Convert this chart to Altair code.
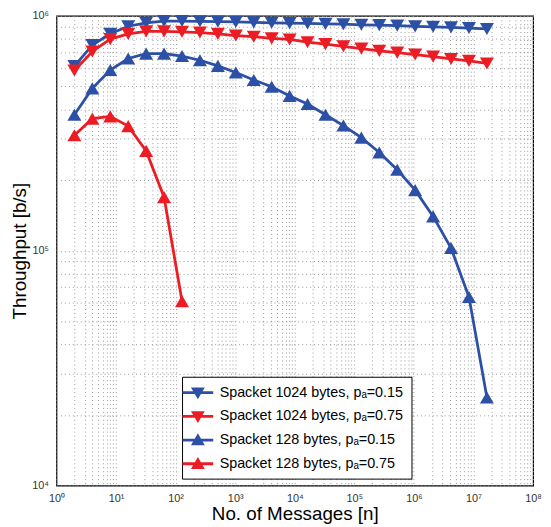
import altair as alt
import pandas as pd

# ---- data ----
n_values = [2, 4, 8, 16, 32, 64, 128, 256, 512, 1024, 2048, 4096, 8192, 16384,
            32768, 65536, 131072, 262144, 524288, 1048576, 2097152, 4194304,
            8388608, 16777216]

thr_1024_015 = [611000, 750000, 838000, 903000, 934000, 950000, 950000, 948000,
                945000, 942000, 938000, 934000, 931000, 929000, 924000, 921000,
                916000, 913000, 908000, 902000, 898000, 893000, 887000, 879000]
thr_1024_075 = [585000, 705000, 796000, 838000, 859000, 859000, 855000, 849000,
                838000, 824000, 815000, 802000, 793000, 772000, 758000, 742000,
                725000, 709000, 697000, 684000, 670000, 655000, 643000, 627000]
thr_128_015 = [379000, 491000, 588000, 658000, 690000, 690000, 674000, 647000,
               612000, 574000, 533000, 499000, 456000, 421000, 379000, 341000,
               303000, 262000, 221000, 181000, 140000, 102600, 63500, 23700]
thr_128_075 = [310000, 365000, 373000, 339000, 266000, 169000, 61000]

series_names = ["Spacket 1024 bytes, p\u2090=0.15",
                "Spacket 1024 bytes, p\u2090=0.75",
                "Spacket 128 bytes, p\u2090=0.15",
                "Spacket 128 bytes, p\u2090=0.75"]
series_values = [thr_1024_015, thr_1024_075, thr_128_015, thr_128_075]

blue = "#2C50A5"
red = "#EC1C24"
series_colors = [blue, red, blue, red]
plot_shapes = ["triangle-down", "triangle-down", "triangle-up", "triangle-up"]

line_path = "M-1.94,-0.18L1.94,-0.18L1.94,0.18L-1.94,0.18Z"
down_path = line_path + "M-0.875,-0.65L0.875,-0.65L0,0.85Z"
up_path = line_path + "M0.875,0.65L-0.875,0.65L0,-0.85Z"
legend_shapes = [down_path, down_path, up_path, up_path]

rows = []
for name, vals in zip(series_names, series_values):
    for i, v in enumerate(vals):
        rows.append({"series": name, "n": n_values[i], "thr": v, "idx": i})
df = pd.DataFrame(rows)

x_grid = [m * 10 ** e for e in range(8) for m in range(1, 10)] + [10 ** 8]
y_grid = [m * 10 ** e for e in (4, 5) for m in range(1, 10)] + [10 ** 6]

sup = "['\u2070','\u00b9','\u00b2','\u00b3','\u2074','\u2075','\u2076','\u2077','\u2078']"
lab = ("abs(log(datum.value)/LN10 - round(log(datum.value)/LN10)) < 0.001 ? "
       "'10' + " + sup + "[round(log(datum.value)/LN10)] : ''")

x_axis = alt.Axis(values=x_grid, labelExpr=lab, grid=True, gridColor="#9a9a9a",
                  gridDash=[1, 3], gridWidth=1, ticks=False, domain=False,
                  labelOverlap=False, labelFlush=False, labelFontSize=11,
                  labelColor="#333333", labelPadding=7,
                  title="No. of Messages [n]", titleFontSize=19,
                  titleFontWeight="normal", titleColor="black", titlePadding=1)
y_axis = alt.Axis(values=y_grid, labelExpr=lab, grid=True, gridColor="#9a9a9a",
                  gridDash=[1, 3], gridWidth=1, ticks=False, domain=False,
                  labelOverlap=False, labelFlush=False, labelFontSize=11,
                  labelColor="#333333", labelPadding=8,
                  title="Throughput [b/s]", titleFontSize=19,
                  titleFontWeight="normal", titleColor="black", titlePadding=2)

X = alt.X("n:Q", scale=alt.Scale(type="log", domain=[1, 1e8], nice=False), axis=x_axis)
Y = alt.Y("thr:Q", scale=alt.Scale(type="log", domain=[1e4, 1e6], nice=False), axis=y_axis)

cscale = alt.Scale(domain=series_names, range=series_colors)

base = alt.Chart(df)

lines = base.mark_line(strokeWidth=2.8).encode(
    x=X, y=Y,
    color=alt.Color("series:N", scale=cscale, legend=None, sort=series_names),
    order="idx:Q",
)

points = base.mark_point(filled=True, size=200, opacity=1).encode(
    x=X, y=Y,
    color=alt.Color("series:N", scale=cscale, legend=None, sort=series_names),
    shape=alt.Shape("series:N", scale=alt.Scale(domain=series_names, range=plot_shapes),
                    legend=None, sort=series_names),
)

leg = alt.Legend(orient="none", legendX=127, legendY=365, title=None, padding=8,
                 strokeColor="black", fillColor="white", labelFontSize=14.5,
                 labelColor="black", labelLimit=400, symbolSize=256,
                 symbolOpacity=1, symbolStrokeWidth=0, rowPadding=9,
                 labelOffset=14)

legend_layer = base.mark_point(filled=True, opacity=0).encode(
    x=X, y=Y,
    color=alt.Color("series:N", scale=cscale, legend=leg, sort=series_names),
    shape=alt.Shape("series:N", scale=alt.Scale(domain=series_names, range=legend_shapes),
                    legend=leg, sort=series_names),
)

chart = alt.layer(lines, points, legend_layer).resolve_scale(
    color="independent", shape="independent"
).properties(
    width=482, height=475,
    autosize=alt.AutoSizeParams(type="none"),
    padding={"left": 49, "top": 5, "right": 10, "bottom": 38},
).configure(font="Liberation Sans").configure_view(stroke="black", strokeWidth=1.2)

chart.save("out.html", embed_options={"renderer": "svg", "actions": False})
